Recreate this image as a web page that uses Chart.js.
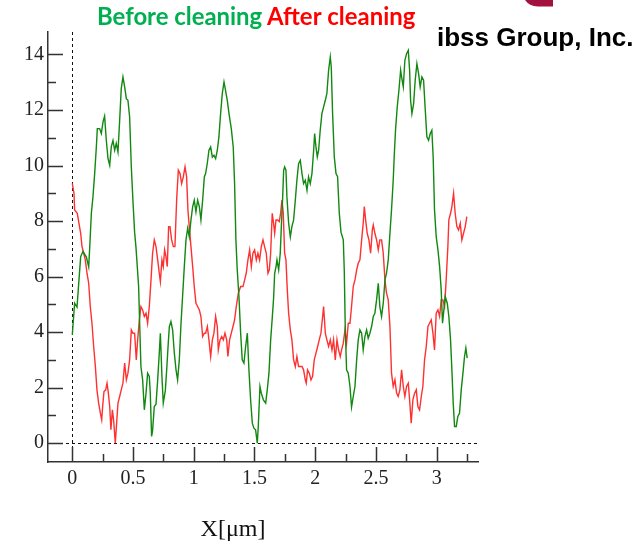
<!DOCTYPE html>
<html>
<head>
<meta charset="utf-8">
<script src="https://cdn.jsdelivr.net/npm/chart.js@4.4.1/dist/chart.umd.min.js"></script>
<style>
html, body { margin: 0; padding: 0; background: #fff; }
#wrap { width: 642px; height: 544px; }
</style>
</head>
<body>
<div id="wrap"><canvas id="chart" width="642" height="544"></canvas></div>
<script>
"use strict";

// profile before cleaning (green), x in um
var beforeX = [0.000,0.019,0.039,0.055,0.069,0.088,0.116,0.135,0.143,0.157,0.170,0.184,0.198,0.206,0.225,0.239,0.253,0.266,0.280,0.294,
  0.308,0.321,0.335,0.349,0.362,0.376,0.390,0.403,0.417,0.431,0.445,0.458,0.472,0.486,0.499,0.513,0.524,0.546,0.557,0.565,
  0.579,0.593,0.607,0.620,0.634,0.642,0.653,0.661,0.675,0.689,0.703,0.716,0.725,0.738,0.749,0.766,0.777,0.790,0.799,0.812,
  0.826,0.840,0.854,0.867,0.881,0.895,0.908,0.922,0.936,0.950,0.963,0.977,0.991,1.004,1.018,1.032,1.046,1.059,1.073,1.087,
  1.098,1.112,1.125,1.139,1.153,1.166,1.180,1.194,1.207,1.221,1.235,1.249,1.262,1.276,1.290,1.309,1.325,1.336,1.347,1.358,
  1.372,1.386,1.399,1.413,1.427,1.441,1.454,1.468,1.482,1.495,1.509,1.523,1.531,1.545,1.556,1.573,1.592,1.605,1.619,1.633,
  1.646,1.657,1.666,1.677,1.685,1.699,1.712,1.721,1.731,1.740,1.748,1.759,1.767,1.781,1.795,1.808,1.822,1.836,1.849,1.863,
  1.877,1.891,1.904,1.918,1.932,1.945,1.959,1.973,1.987,1.995,2.006,2.017,2.028,2.041,2.055,2.069,2.083,2.096,2.110,2.124,
  2.132,2.143,2.157,2.171,2.184,2.198,2.212,2.231,2.239,2.247,2.258,2.272,2.286,2.299,2.313,2.327,2.341,2.354,2.368,2.382,
  2.395,2.409,2.423,2.436,2.450,2.464,2.478,2.491,2.505,2.519,2.532,2.546,2.560,2.574,2.587,2.601,2.615,2.628,2.642,2.650,
  2.661,2.675,2.689,2.703,2.711,2.725,2.738,2.752,2.766,2.777,2.785,2.796,2.810,2.823,2.837,2.851,2.864,2.878,2.892,2.906,
  2.919,2.933,2.947,2.960,2.971,2.982,2.996,3.010,3.024,3.037,3.048,3.059,3.070,3.087,3.100,3.114,3.125,3.136,3.147,3.161,
  3.174,3.188,3.202,3.216,3.229,3.240,3.251];
var beforeY = [3.9,5.04,4.9,5.88,6.72,6.9,6.7,6.35,7.0,8.28,8.87,9.7,10.67,11.33,11.33,11.15,11.57,11.78,10.91,10.25,
  10.01,10.67,10.9,10.55,10.8,10.49,11.63,12.77,13.19,12.83,12.41,12.35,11.75,9.95,8.75,7.6,7.07,5.64,3.96,2.76,
  2.28,1.2,1.8,2.52,2.4,1.8,0.24,0.45,1.32,1.4,2.28,3.24,3.96,2.4,1.44,1.9,2.64,3.6,4.2,4.38,
  4.08,3.24,2.64,2.28,3.0,4.32,5.28,6.35,7.32,7.74,7.44,8.04,8.52,8.75,8.33,8.75,8.52,8.04,8.75,9.59,
  9.72,10.1,10.55,10.67,10.3,10.37,10.25,10.55,11.03,11.87,12.6,13.01,12.7,12.35,11.87,11.33,10.67,9.36,7.32,6.24,
  5.28,3.96,3.0,2.88,3.48,3.96,2.64,1.56,0.72,0.54,0.48,0.0,0.6,2.04,1.8,1.56,1.44,1.92,2.52,3.72,
  4.5,5.2,6.12,6.35,6.6,6.24,6.84,7.8,8.75,9.83,9.95,9.83,8.87,7.92,7.43,7.8,8.04,8.75,9.47,10.07,
  10.19,9.71,9.35,9.47,9.11,9.59,9.35,9.71,10.55,11.15,10.67,10.31,10.55,11.27,11.87,12.11,12.35,12.6,13.43,13.91,
  13.55,11.87,10.31,9.71,9.6,8.28,7.6,7.32,6.24,4.2,2.64,2.52,2.04,1.3,1.68,2.04,3.0,3.72,4.08,3.96,
  3.36,3.84,4.08,3.78,3.96,4.2,4.56,4.68,5.16,5.76,4.92,4.56,5.04,5.88,6.12,6.6,7.56,8.4,9.47,10.31,
  11.27,12.11,12.71,13.43,13.19,12.83,13.79,14.03,14.15,13.43,12.35,11.87,12.23,13.07,13.67,13.31,12.83,13.19,13.07,11.99,
  11.03,10.91,11.15,11.27,10.31,8.4,7.44,6.97,6.36,5.52,4.32,4.8,5.28,5.04,4.56,3.72,2.64,1.44,0.6,0.6,
  0.96,1.08,1.92,2.52,3.12,3.42,3.06];

// profile after cleaning (red)
var afterX = [0.000,0.014,0.019,0.041,0.055,0.069,0.080,0.094,0.107,0.121,0.135,0.148,0.162,0.176,0.190,0.203,0.217,0.231,0.242,0.250,
  0.261,0.275,0.286,0.297,0.308,0.318,0.330,0.340,0.354,0.365,0.376,0.390,0.403,0.417,0.431,0.445,0.458,0.472,0.486,0.499,
  0.513,0.527,0.538,0.552,0.565,0.579,0.593,0.607,0.620,0.634,0.648,0.661,0.675,0.689,0.703,0.716,0.725,0.738,0.749,0.760,
  0.771,0.782,0.793,0.804,0.818,0.832,0.845,0.859,0.873,0.887,0.900,0.914,0.928,0.941,0.952,0.963,0.977,0.991,1.004,1.018,
  1.032,1.046,1.059,1.073,1.087,1.098,1.112,1.125,1.139,1.153,1.166,1.180,1.194,1.202,1.216,1.230,1.243,1.257,1.271,1.281,
  1.295,1.309,1.323,1.336,1.350,1.367,1.386,1.405,1.419,1.432,1.446,1.460,1.474,1.487,1.501,1.515,1.528,1.542,1.556,1.570,
  1.583,1.597,1.611,1.622,1.633,1.646,1.657,1.666,1.677,1.690,1.704,1.715,1.726,1.737,1.748,1.759,1.770,1.781,1.795,1.808,
  1.822,1.836,1.849,1.863,1.877,1.891,1.904,1.918,1.926,1.937,1.951,1.965,1.978,1.992,2.006,2.020,2.033,2.047,2.061,2.069,
  2.083,2.096,2.110,2.124,2.138,2.151,2.165,2.179,2.192,2.206,2.217,2.231,2.245,2.258,2.272,2.286,2.299,2.313,2.327,2.341,
  2.354,2.368,2.382,2.395,2.404,2.415,2.428,2.442,2.456,2.470,2.478,2.491,2.505,2.519,2.532,2.546,2.560,2.574,2.587,2.601,
  2.615,2.628,2.642,2.656,2.670,2.683,2.697,2.711,2.725,2.738,2.752,2.766,2.777,2.790,2.804,2.818,2.832,2.845,2.859,2.873,
  2.886,2.900,2.914,2.928,2.941,2.955,2.969,2.982,2.996,3.010,3.024,3.037,3.051,3.065,3.078,3.092,3.100,3.114,3.125,3.139,
  3.152,3.166,3.180,3.194,3.207,3.221,3.235,3.248];
var afterY = [9.36,9.0,8.4,8.28,7.92,7.56,7.08,6.84,6.6,6.12,5.76,4.92,4.32,3.48,2.76,1.92,1.44,1.08,0.84,1.32,
  1.86,1.92,2.16,1.8,1.32,0.48,1.2,0.84,0.0,0.72,1.44,1.68,1.92,2.16,2.88,2.28,2.52,3.0,4.08,3.96,
  3.96,3.0,3.72,4.44,4.92,4.8,4.56,4.68,4.32,4.92,5.88,6.84,7.32,7.08,6.6,6.12,5.82,6.6,6.36,6.96,
  6.72,6.36,7.8,7.8,7.32,7.08,7.08,8.76,9.83,9.71,9.35,9.59,9.95,9.59,8.4,7.8,7.08,6.36,5.64,5.04,
  4.92,4.8,4.56,3.84,3.96,3.96,4.2,3.72,3.12,3.72,3.96,4.56,4.2,3.36,3.72,3.84,3.72,3.96,3.72,3.12,
  3.72,3.96,4.2,4.44,4.92,5.4,5.64,5.64,5.88,6.12,6.6,6.96,6.36,6.84,6.96,6.6,6.84,6.6,7.08,7.32,
  7.08,6.84,6.12,6.24,6.84,8.28,7.92,7.56,8.04,8.04,7.98,8.28,8.76,8.28,6.84,6.6,5.52,4.68,4.08,3.72,
  3.0,2.76,3.12,2.76,2.76,2.76,2.64,2.28,2.16,2.64,2.52,2.28,2.4,3.0,3.24,3.48,3.72,3.96,4.56,4.92,
  3.96,3.72,3.48,3.72,3.36,3.72,3.0,3.72,3.36,3.12,3.36,3.6,4.08,3.6,4.32,4.32,4.92,5.64,5.88,6.24,
  6.48,6.6,7.32,7.92,8.52,8.04,7.56,7.32,6.84,7.68,7.86,7.56,7.32,6.96,7.32,7.32,6.84,5.88,5.4,5.16,
  4.2,2.52,2.04,2.28,1.8,1.68,1.92,2.64,2.04,1.68,2.04,2.16,1.56,0.72,1.56,1.8,1.92,1.32,1.2,1.68,
  2.04,3.0,3.48,4.2,4.32,4.44,3.96,3.36,4.68,4.8,4.56,5.16,5.16,4.92,5.88,7.08,8.04,8.28,8.52,9.0,
  8.28,7.8,7.68,7.92,7.32,7.56,7.8,8.16];

var xMajor = [0, 0.5, 1, 1.5, 2, 2.5, 3];
var xMinor = [0.25, 0.75, 1.25, 1.75, 2.25, 2.75, 3.25];
var yMajor = [0, 2, 4, 6, 8, 10, 12, 14];
var yMinor = [1, 3, 5, 7, 9, 11, 13];

function toPoints(xs, ys) {
    var pts = [];
    for (var i = 0; i < xs.length; i++) {
        pts.push({x: xs[i], y: ys[i]});
    }
    return pts;
}

var serif = '"Liberation Serif", "Times New Roman", serif';

var decor = {
    id: 'decor',
    beforeDatasetsDraw: function(chart) {
        var ctx = chart.ctx, a = chart.chartArea;
        var sx = chart.scales.x, sy = chart.scales.y;
        ctx.save();
        ctx.strokeStyle = '#111';
        ctx.lineWidth = 1;
        ctx.setLineDash([3, 3]);
        var x0 = Math.round(sx.getPixelForValue(0)) + 0.5;
        var y0 = Math.round(sy.getPixelForValue(0)) + 0.5;
        ctx.beginPath();
        ctx.moveTo(x0, a.top);
        ctx.lineTo(x0, a.bottom);
        ctx.moveTo(a.left, y0);
        ctx.lineTo(a.right, y0);
        ctx.stroke();
        ctx.restore();
    },
    afterDraw: function(chart) {
        var ctx = chart.ctx, a = chart.chartArea;
        var sx = chart.scales.x, sy = chart.scales.y;
        ctx.save();

        // inner tick marks
        ctx.strokeStyle = '#333';
        ctx.lineWidth = 1.5;
        ctx.beginPath();
        yMajor.forEach(function(v) {
            var p = Math.round(sy.getPixelForValue(v)) + 0.5;
            ctx.moveTo(a.left, p); ctx.lineTo(a.left + 15, p);
        });
        yMinor.forEach(function(v) {
            var p = Math.round(sy.getPixelForValue(v)) + 0.5;
            ctx.moveTo(a.left, p); ctx.lineTo(a.left + 8, p);
        });
        xMajor.forEach(function(v) {
            var p = Math.round(sx.getPixelForValue(v)) + 0.5;
            ctx.moveTo(p, a.bottom); ctx.lineTo(p, a.bottom - 15);
        });
        xMinor.forEach(function(v) {
            var p = Math.round(sx.getPixelForValue(v)) + 0.5;
            ctx.moveTo(p, a.bottom); ctx.lineTo(p, a.bottom - 8);
        });
        ctx.stroke();

        // x axis title
        ctx.fillStyle = '#111';
        ctx.font = '24px ' + serif;
        ctx.textAlign = 'center';
        ctx.textBaseline = 'alphabetic';
        ctx.fillText('X[\u03bcm]', 233, 536);

        // header texts
        ctx.textAlign = 'left';
        var fam = 'Lato, "Open Sans", sans-serif';
        ctx.font = 'bold 20px ' + fam;
        var w = ctx.measureText('Before cleaning').width;
        var size = 20 * 165 / w;
        ctx.font = 'bold ' + size.toFixed(1) + 'px ' + fam;
        ctx.fillStyle = '#00b050';
        ctx.fillText('Before cleaning', 97, 25);
        ctx.save();
        ctx.beginPath();
        ctx.rect(0, 0, 416, 60);
        ctx.clip();
        ctx.fillStyle = '#ff0000';
        ctx.fillText('After cleaning', 267, 25);
        ctx.restore();

        ctx.font = 'bold 26px "Liberation Sans", Arial, sans-serif';
        ctx.fillStyle = '#000';
        ctx.fillText('ibss Group, Inc.', 437, 46, 200);

        // corner of the logo
        ctx.fillStyle = '#a3123f';
        ctx.beginPath();
        ctx.moveTo(525, 0);
        ctx.quadraticCurveTo(529, 6, 538, 6.5);
        ctx.lineTo(553, 6.5);
        ctx.lineTo(553, 0);
        ctx.closePath();
        ctx.fill();

        ctx.restore();
    }
};

function plainNumber(v) {
    return String(Math.round(v * 100) / 100);
}

var ctx = document.getElementById('chart').getContext('2d');

var profileChart = new Chart(ctx, {
    type: 'line',
    data: {
        datasets: [
            {
                label: 'Before cleaning',
                data: toPoints(beforeX, beforeY),
                borderColor: '#11880f',
                borderWidth: 1.4,
                pointRadius: 0,
                tension: 0,
                fill: false
            },
            {
                label: 'After cleaning',
                data: toPoints(afterX, afterY),
                borderColor: '#ff3030',
                borderWidth: 1.4,
                pointRadius: 0,
                tension: 0,
                fill: false
            }
        ]
    },
    options: {
        responsive: false,
        animation: false,
        devicePixelRatio: 1,
        layout: { padding: { left: 0, right: 164, top: 32, bottom: 0 } },
        plugins: {
            legend: { display: false },
            tooltip: { enabled: false }
        },
        scales: {
            x: {
                type: 'linear',
                min: -0.2,
                max: 3.34,
                afterFit: function(s) { s.height = 82; },
                grid: { display: false, drawTicks: false },
                border: { display: true, color: '#333', width: 1.5 },
                ticks: {
                    stepSize: 0.5,
                    includeBounds: false,
                    autoSkip: false,
                    maxRotation: 0,
                    padding: 5,
                    color: '#222',
                    font: { family: serif, size: 20 },
                    callback: plainNumber
                }
            },
            y: {
                type: 'linear',
                min: -0.68,
                max: 14.81,
                afterFit: function(s) { s.width = 48; },
                grid: { display: false, drawTicks: false },
                border: { display: true, color: '#333', width: 1.5 },
                ticks: {
                    stepSize: 2,
                    includeBounds: false,
                    autoSkip: false,
                    padding: 4,
                    color: '#222',
                    font: { family: serif, size: 20 },
                    callback: plainNumber
                }
            }
        }
    },
    plugins: [decor]
});
</script>
</body>
</html>
